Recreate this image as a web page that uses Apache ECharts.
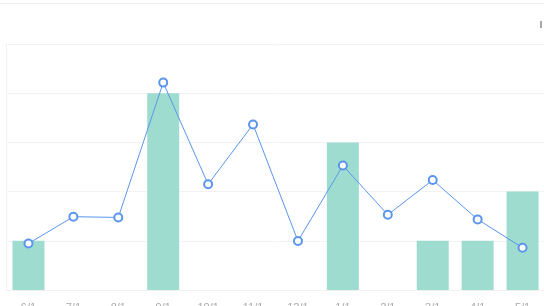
<!DOCTYPE html>
<html>
<head>
<meta charset="utf-8">
<script src="https://cdn.jsdelivr.net/npm/echarts@6/dist/echarts.min.js"></script>
<style>
html,body{margin:0;padding:0;background:#fff;}
#main{width:544px;height:306px;}
</style>
</head>
<body>
<div id="main"></div>
<script>
var categories = ['6/1','7/1','8/1','9/1','10/1','11/1','12/1','1/1','2/1','3/1','4/1','5/1'];
var barValues = [1,0,0,4,0,0,0,3,0,1,1,2];
var lineValues = [18.9,29.8,29.5,84.3,43.0,67.3,19.9,50.6,30.6,44.7,28.7,17.2];

var chart = echarts.init(document.getElementById('main'));
chart.setOption({
  backgroundColor: '#fff',
  animation: false,
  graphic: [{
    type: 'rect', left: 0, top: 3, shape: {width: 544, height: 1},
    style: {fill: '#eeeeee'}, silent: true
  }, {
    type: 'rect', left: 540, top: 21, shape: {width: 2, height: 7},
    style: {fill: '#a8a8a8'}, silent: true
  }],
  grid: {left: 6, top: 44, width: 539, height: 246, containLabel: false, outerBoundsMode: 'none'},
  xAxis: {
    type: 'category',
    data: categories,
    axisLine: {show: true, lineStyle: {color: '#f0f0f0'}},
    axisTick: {show: false},
    axisLabel: {color: '#aaa', fontSize: 11, margin: 12}
  },
  yAxis: [{
    type: 'value', min: 0, max: 5, interval: 1,
    axisLine: {show: true, lineStyle: {color: '#f0f0f0'}},
    axisTick: {show: false},
    axisLabel: {show: false},
    splitLine: {lineStyle: {color: '#f3f3f3'}}
  }, {
    type: 'value', min: 0, max: 100, interval: 20,
    axisLine: {show: false}, axisTick: {show: false},
    axisLabel: {show: false}, splitLine: {show: false}
  }],
  series: [{
    type: 'bar',
    data: barValues,
    barWidth: 32,
    itemStyle: {color: '#9edcd0'}
  }, {
    type: 'line',
    yAxisIndex: 1,
    data: lineValues,
    symbol: 'emptyCircle',
    symbolSize: 8,
    showAllSymbol: true,
    lineStyle: {color: '#5b96ee', width: 1},
    itemStyle: {color: '#5b96ee', borderWidth: 1}
  }]
});
</script>
</body>
</html>
